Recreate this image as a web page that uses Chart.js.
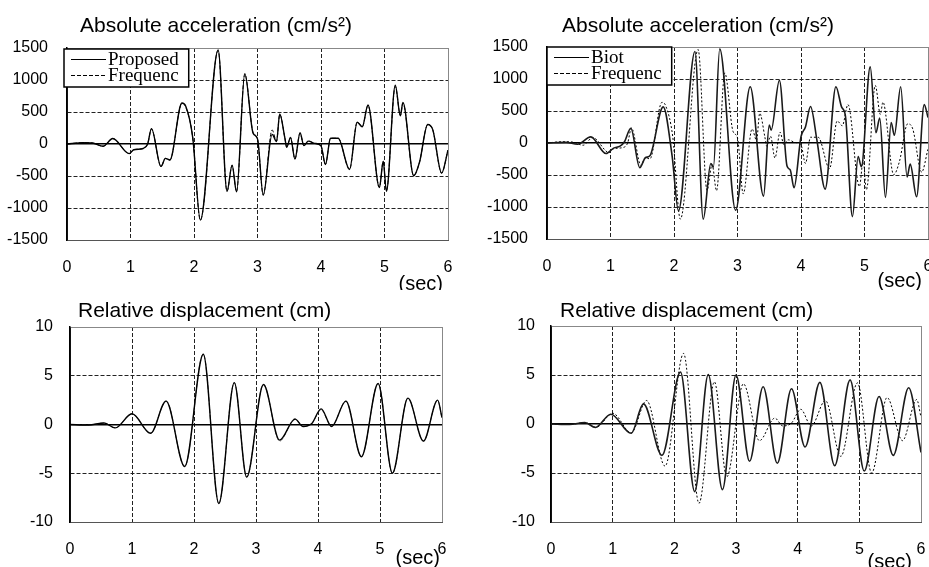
<!DOCTYPE html>
<html>
<head>
<meta charset="utf-8">
<script src="https://cdn.jsdelivr.net/npm/chart.js@4.4.0/dist/chart.umd.min.js"></script>
<style>
  html, body { margin: 0; padding: 0; background: #fff; }
  body { width: 929px; height: 567px; position: relative; overflow: hidden; }
  canvas { position: absolute; }
</style>
</head>
<body>
<canvas id="accProposed" width="465" height="290" style="left:0;top:0"></canvas>
<canvas id="accBiot" width="464" height="290" style="left:465px;top:0"></canvas>
<canvas id="dispProposed" width="465" height="277" style="left:0;top:290px"></canvas>
<canvas id="dispBiot" width="464" height="277" style="left:465px;top:290px"></canvas>
<script>
// axis ticks
const timeTicks = [0, 1, 2, 3, 4, 5, 6];
const accTicks = [-1500, -1000, -500, 0, 500, 1000, 1500];
const dispTicks = [-10, -5, 0, 5, 10];

// absolute acceleration (cm/s2), read at the turning points of each curve
const accFreqT = [0, 0.25, 0.4, 0.57, 0.72, 0.98, 1.05, 1.2, 1.27, 1.33, 1.48, 1.55, 1.62, 1.81, 1.87,
  1.98, 2.1, 2.38, 2.52, 2.6, 2.67, 2.8, 2.93, 3.0, 3.09, 3.23, 3.3, 3.35, 3.43, 3.46, 3.52, 3.59,
  3.67, 3.73, 3.8, 3.9, 4.0, 4.07, 4.15, 4.27, 4.45, 4.57, 4.65, 4.74, 4.92, 4.98, 5.03, 5.17, 5.25,
  5.29, 5.46, 5.55, 5.68, 5.76, 5.9, 6.0];
const accFreqV = [0, 20, 15, -35, 85, -150, -90, -70, 0, 235, -350, -225, -250, 635, 580,
  100, -1190, 1460, -740, -335, -745, 1095, 180, 80, -795, 220, 40, 465, 100, -50, 105, -235,
  170, -25, 50, 10, -30, -320, 90, 90, -400, 345, 270, 600, -680, -270, -730, 900, 445,
  640, -495, -290, 300, 220, -455, -95];
const accPropV = [0, 20, 15, -35, 85, -150, -90, -70, 0, 240, -350, -225, -250, 640, 590,
  100, -1190, 1470, -740, -330, -745, 1100, 170, 80, -800, 150, 40, 470, 100, -50, 100, -235,
  175, -25, 45, 10, -30, -320, 90, 90, -395, 340, 270, 610, -680, -270, -740, 920, 440,
  650, -495, -290, 305, 225, -455, -95];
const accBiotT = [0, 0.3, 0.48, 0.69, 0.93, 1.05, 1.15, 1.22, 1.32, 1.46, 1.55, 1.62, 1.83, 1.97,
  2.07, 2.33, 2.46, 2.58, 2.62, 2.72, 2.97, 3.2, 3.41, 3.5, 3.53, 3.66, 3.78, 3.83, 3.89, 4.0,
  4.07, 4.15, 4.25, 4.38, 4.55, 4.64, 4.7, 4.81, 4.9, 4.95, 5.09, 5.18, 5.24, 5.33, 5.42, 5.47,
  5.57, 5.67, 5.72, 5.82, 5.94, 6.0];
const accBiotV = [0, 10, -20, 95, -165, -80, -50, 20, 230, -385, -230, -200, 565, -200,
  -1060, 1430, -1190, -320, -380, 1470, -1050, 880, -830, 280, 200, 980, -360, -420, -700, 100,
  250, 570, 50, -720, 880, 560, 420, -1150, -210, -370, 1190, 160, 390, -850, 320, 120,
  880, -530, -330, -840, 600, 400];

// relative displacement (cm)
const dispFreqT = [0, 0.3, 0.55, 0.73, 1.0, 1.3, 1.55, 1.85, 2.15, 2.4, 2.65, 2.85, 3.12, 3.38,
  3.63, 3.76, 3.9, 4.05, 4.22, 4.45, 4.7, 4.97, 5.2, 5.45, 5.7, 5.93, 6.0];
const dispFreqV = [0, -0.05, 0.15, -0.35, 1.1, -0.9, 2.4, -4.3, 7.2, -8.1, 4.3, -5.4, 4.1, -1.7,
  0.6, -0.2, 0.1, 1.5, -0.2, 2.4, -3.3, 4.2, -5.0, 2.7, -1.7, 2.5, 0.7];
const dispPropV = [0, -0.05, 0.15, -0.35, 1.1, -0.9, 2.4, -4.3, 7.2, -8.1, 4.3, -5.4, 4.1, -1.6,
  0.55, -0.2, 0.1, 1.6, -0.2, 2.4, -3.3, 4.2, -5.0, 2.7, -1.7, 2.5, 0.7];
const dispBiotT = [0, 0.3, 0.55, 0.72, 0.97, 1.3, 1.5, 1.8, 2.1, 2.33, 2.55, 2.78, 3.0, 3.22,
  3.44, 3.67, 3.9, 4.12, 4.36, 4.6, 4.85, 5.08, 5.32, 5.55, 5.8, 6.0];
const dispBiotV = [0, -0.05, 0.15, -0.35, 1.0, -0.95, 2.05, -3.2, 5.3, -6.9, 5.05, -6.7, 5.0, -3.8,
  3.8, -4.0, 3.6, -2.35, 4.25, -4.25, 4.5, -4.8, 2.8, -3.2, 3.7, -2.9];

Chart.defaults.font.family = "'Liberation Sans', Arial, sans-serif";
Chart.defaults.font.size = 16;
Chart.defaults.color = '#000';

// title, "(sec)" and the boxed legend, placed from the chart area
const panelText = {
  id: 'panelText',
  afterDraw(chart, args, o) {
    const { ctx, chartArea: a } = chart;
    ctx.save();
    ctx.fillStyle = '#000';
    ctx.font = "21px 'Liberation Sans', Arial, sans-serif";
    ctx.textAlign = 'left';
    ctx.textBaseline = 'alphabetic';
    ctx.fillText(o.title, a.left + o.titleDx, a.top + o.titleDy);
    ctx.font = "20px 'Liberation Sans', Arial, sans-serif";
    ctx.textAlign = 'right';
    ctx.textBaseline = 'middle';
    ctx.fillText('(sec)', a.right + o.unitDx, a.bottom + o.unitDy);

    if (o.legend) {
      const sets = chart.data.datasets;
      ctx.font = "19px 'Liberation Serif', 'Times New Roman', serif";
      const textW = Math.max(...sets.map(d => ctx.measureText(d.label).width));
      const bx = a.left + o.legendDx, by = a.top + o.legendDy;
      const bw = 44 + textW + 10, bh = 38;
      ctx.fillStyle = '#fff';
      ctx.fillRect(bx, by, bw, bh);
      ctx.strokeStyle = '#000';
      ctx.lineWidth = 1.5;
      ctx.setLineDash([]);
      ctx.strokeRect(bx, by, bw, bh);
      sets.forEach((d, i) => {
        const base = by + 16 + i * 16;
        ctx.lineWidth = 1;
        ctx.setLineDash(d.borderDash && d.borderDash.length ? [4, 2] : []);
        ctx.beginPath();
        ctx.moveTo(bx + 7, base - 5.5);
        ctx.lineTo(bx + 42, base - 5.5);
        ctx.stroke();
        ctx.setLineDash([]);
        ctx.fillStyle = '#000';
        ctx.textAlign = 'left';
        ctx.textBaseline = 'alphabetic';
        ctx.fillText(d.label, bx + 44, base);
      });
    }
    ctx.restore();
  }
};

function series(label, t, v, color, width, dash) {
  return {
    label: label,
    data: t.map((x, i) => ({ x: x, y: v[i] })),
    borderColor: color,
    borderWidth: width,
    borderDash: dash,
    pointRadius: 0,
    fill: false,
    cubicInterpolationMode: 'monotone'
  };
}

function makePanel(id, o) {
  const el = document.getElementById(id);
  const yTop = o.yTicks[o.yTicks.length - 1];
  const xEnd = timeTicks[timeTicks.length - 1];
  return new Chart(el, {
    type: 'line',
    data: { datasets: o.datasets },
    options: {
      responsive: false,
      animation: false,
      events: [],
      layout: { padding: { top: o.area.top, right: el.width - o.area.right, left: 0, bottom: 0 } },
      plugins: {
        legend: { display: false },
        tooltip: { enabled: false },
        panelText: o.text
      },
      scales: {
        x: {
          type: 'linear',
          min: timeTicks[0],
          max: xEnd,
          afterBuildTicks: s => { s.ticks = timeTicks.map(v => ({ value: v })); },
          afterFit: s => {
            s.height = el.height - o.area.bottom;
            s.paddingLeft = 0; s.paddingRight = 0;
          },
          ticks: { padding: 18, maxRotation: 0, autoSkip: false, callback: v => String(v) },
          grid: {
            drawTicks: false,
            color: c => (c.tick && c.tick.value === xEnd) ? '#888' : '#222',
            lineWidth: 1
          },
          border: {
            color: '#555', width: 1,
            dash: c => (c.tick && (c.tick.value === xEnd || c.tick.value === 0)) ? [] : [4, 2]
          }
        },
        y: {
          type: 'linear',
          min: o.yTicks[0],
          max: yTop,
          afterBuildTicks: s => { s.ticks = o.yTicks.map(v => ({ value: v })); },
          afterFit: s => {
            s.width = o.area.left;
            s.paddingTop = 0; s.paddingBottom = 0;
          },
          ticks: { padding: o.yPad, autoSkip: false, callback: v => String(v) },
          grid: {
            drawTicks: false,
            color: c => {
              if (!c.tick) return '#222';
              if (c.tick.value === 0) return '#000';
              if (c.tick.value === yTop) return '#888';
              return '#222';
            },
            lineWidth: c => (c.tick && c.tick.value === 0) ? 1.5 : 1
          },
          border: {
            color: '#000', width: 1.5,
            dash: c => (c.tick && (c.tick.value === 0 || c.tick.value === yTop)) ? [] : [4, 2]
          }
        }
      }
    },
    plugins: [panelText]
  });
}

makePanel('accProposed', {
  area: { left: 67, top: 48, right: 448, bottom: 240 },
  yTicks: accTicks, yPad: 19,
  datasets: [
    series('Proposed', accFreqT, accPropV, '#000', 1.4, []),
    series('Frequenc', accFreqT, accFreqV, '#000', 1, [4, 2])
  ],
  text: { title: 'Absolute acceleration (cm/s²)', titleDx: 13, titleDy: -16,
          unitDx: -5, unitDy: 44, legend: true, legendDx: -3, legendDy: 1 }
});

makePanel('accBiot', {
  area: { left: 82, top: 47, right: 463, bottom: 239 },
  yTicks: accTicks, yPad: 19,
  datasets: [
    series('Biot', accBiotT, accBiotV, '#1a1a1a', 1.6, []),
    series('Frequenc', accFreqT, accFreqV, '#000', 1, [2, 2])
  ],
  text: { title: 'Absolute acceleration (cm/s²)', titleDx: 15, titleDy: -15,
          unitDx: -6, unitDy: 42, legend: true, legendDx: 0, legendDy: 0 }
});

makePanel('dispProposed', {
  area: { left: 70, top: 37, right: 442, bottom: 232 },
  yTicks: dispTicks, yPad: 17,
  datasets: [
    series('Proposed', dispFreqT, dispPropV, '#000', 1.4, []),
    series('Frequenc', dispFreqT, dispFreqV, '#555', 1, [4, 2])
  ],
  text: { title: 'Relative displacement (cm)', titleDx: 8, titleDy: -10,
          unitDx: -2, unitDy: 36, legend: false }
});

makePanel('dispBiot', {
  area: { left: 86, top: 36, right: 456, bottom: 232 },
  yTicks: dispTicks, yPad: 16,
  datasets: [
    series('Biot', dispBiotT, dispBiotV, '#1a1a1a', 1.6, []),
    series('Frequenc', dispFreqT, dispFreqV, '#000', 1, [2, 2])
  ],
  text: { title: 'Relative displacement (cm)', titleDx: 9, titleDy: -9,
          unitDx: -9, unitDy: 40, legend: false }
});
</script>
</body>
</html>
